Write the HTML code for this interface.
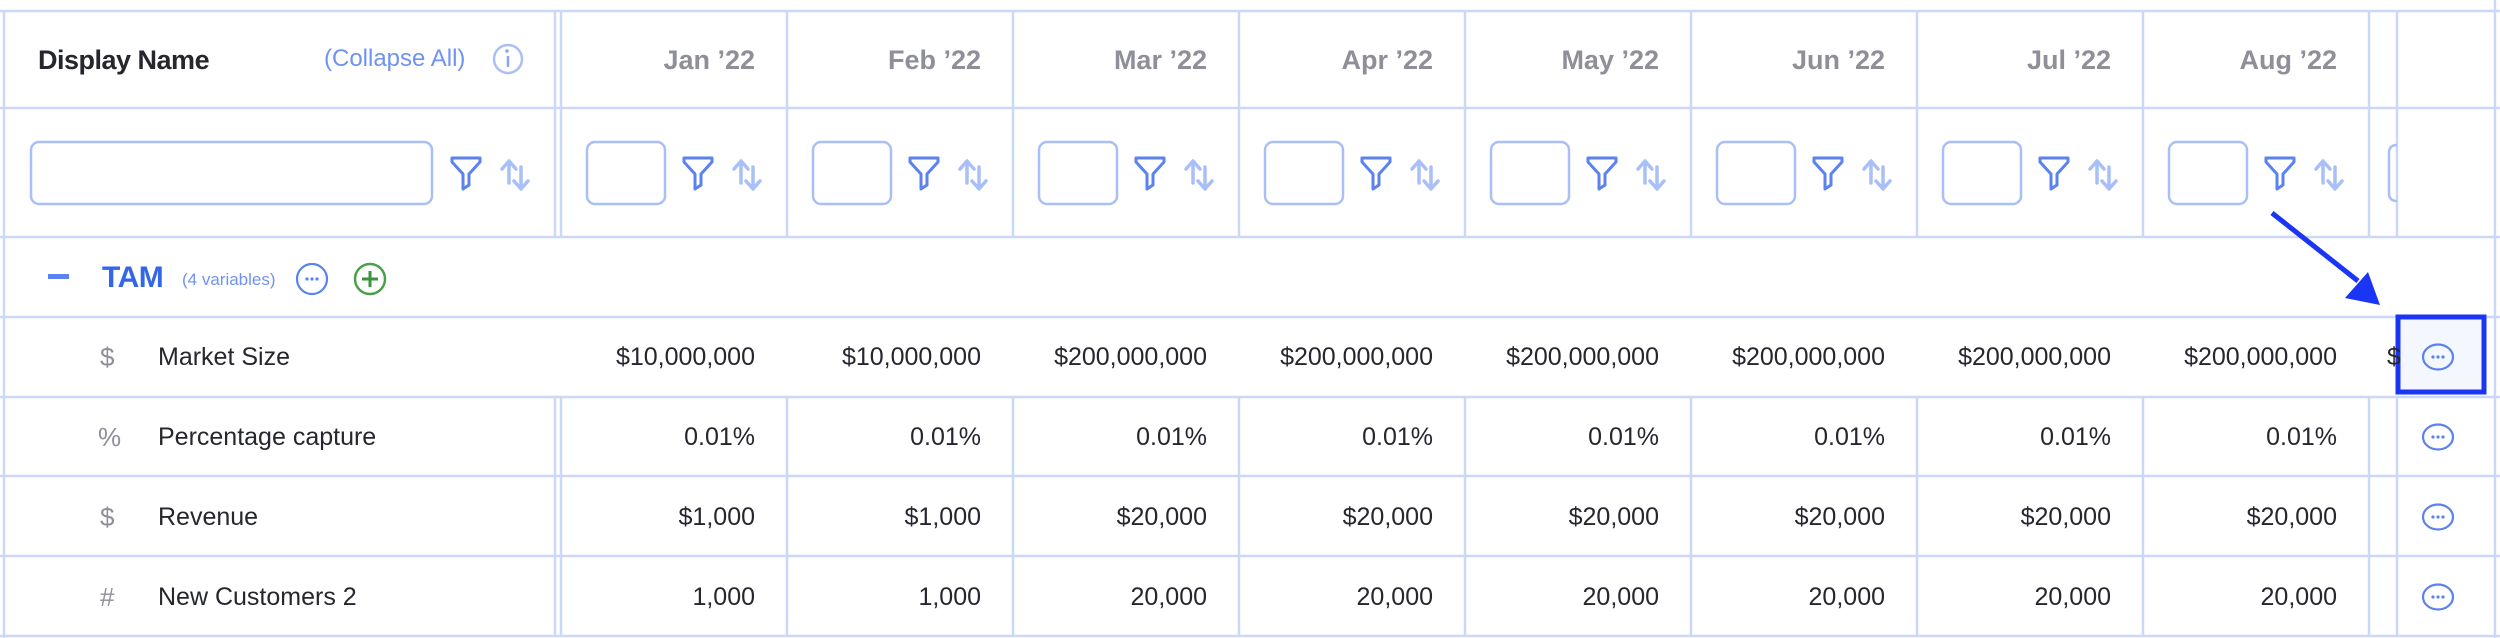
<!DOCTYPE html>
<html><head><meta charset="utf-8"><style>
body{margin:0;background:#fff;}
#c{position:relative;width:2500px;height:638px;overflow:hidden;font-family:"Liberation Sans",sans-serif;}
.t{position:absolute;white-space:nowrap;line-height:1;}
.h{font-weight:bold;font-size:27px;color:#8e8f99;text-align:right;}
.v{font-size:25px;color:#25262e;text-align:right;}
.l{font-size:25px;color:#25262e;}
.i{font-size:26px;color:#8e8f99;}
</style></head><body><div id="c">
<svg width="2500" height="638" style="position:absolute;left:0;top:0" xmlns="http://www.w3.org/2000/svg">
<g stroke="#ccd8f7" stroke-width="2.5" fill="none">
<line x1="0" y1="11" x2="2500" y2="11"/>
<line x1="0" y1="108" x2="2500" y2="108"/>
<line x1="0" y1="237" x2="2500" y2="237"/>
<line x1="0" y1="317" x2="2500" y2="317"/>
<line x1="0" y1="397" x2="2500" y2="397"/>
<line x1="0" y1="476" x2="2500" y2="476"/>
<line x1="0" y1="556" x2="2500" y2="556"/>
<line x1="0" y1="636" x2="2500" y2="636"/>
<line x1="4" y1="11" x2="4" y2="638"/>
<line x1="2495" y1="0" x2="2495" y2="638"/>
<g id="cl">
<line x1="555" y1="11" x2="555" y2="237"/><line x1="561" y1="11" x2="561" y2="237"/>
<line x1="787" y1="11" x2="787" y2="237"/><line x1="1013" y1="11" x2="1013" y2="237"/>
<line x1="1239" y1="11" x2="1239" y2="237"/><line x1="1465" y1="11" x2="1465" y2="237"/>
<line x1="1691" y1="11" x2="1691" y2="237"/><line x1="1917" y1="11" x2="1917" y2="237"/>
<line x1="2143" y1="11" x2="2143" y2="237"/><line x1="2369" y1="11" x2="2369" y2="237"/>
<line x1="2397" y1="11" x2="2397" y2="237"/>
</g>
<g transform="translate(0,160)">
<line x1="555" y1="237" x2="555" y2="476"/><line x1="561" y1="237" x2="561" y2="476"/>
<line x1="787" y1="237" x2="787" y2="476"/><line x1="1013" y1="237" x2="1013" y2="476"/>
<line x1="1239" y1="237" x2="1239" y2="476"/><line x1="1465" y1="237" x2="1465" y2="476"/>
<line x1="1691" y1="237" x2="1691" y2="476"/><line x1="1917" y1="237" x2="1917" y2="476"/>
<line x1="2143" y1="237" x2="2143" y2="476"/><line x1="2369" y1="237" x2="2369" y2="476"/>
<line x1="2397" y1="237" x2="2397" y2="476"/>
</g>
</g>
<!-- inputs -->
<g stroke="#a9bff7" stroke-width="2.5" fill="none">
<rect x="31" y="142" width="401" height="62" rx="8"/>
<rect x="587" y="142" width="78" height="62" rx="8"/>
<rect x="813" y="142" width="78" height="62" rx="8"/>
<rect x="1039" y="142" width="78" height="62" rx="8"/>
<rect x="1265" y="142" width="78" height="62" rx="8"/>
<rect x="1491" y="142" width="78" height="62" rx="8"/>
<rect x="1717" y="142" width="78" height="62" rx="8"/>
<rect x="1943" y="142" width="78" height="62" rx="8"/>
<rect x="2169" y="142" width="78" height="62" rx="8"/>
<path d="M2397 145 Q2389 145 2389 153 L2389 193 Q2389 201 2397 201"/>
</g>
<defs>
<g id="fs">
<path d="M0 0 H28 V4 L17 16 V27 L11 31 V16 L0 4 Z" fill="none" stroke="#5b82ee" stroke-width="3" stroke-linejoin="round"/>
<g stroke="#a9bff7" stroke-width="3.5" fill="none" stroke-linecap="round" stroke-linejoin="round">
<path d="M57 25 V4 M50 11 L57 3 L64 11"/>
<path d="M69 9 V30 M62 23 L69 31 L76 23"/>
</g>
</g>
<g id="dots">
<ellipse cx="0" cy="0" rx="15" ry="12.5" fill="none" stroke="#5b82ee" stroke-width="2.2"/>
<circle cx="-5" cy="0" r="1.6" fill="#5b82ee"/><circle cx="0" cy="0" r="1.6" fill="#5b82ee"/><circle cx="5" cy="0" r="1.6" fill="#5b82ee"/>
</g>
</defs>
<use href="#fs" x="452" y="158"/>
<use href="#fs" x="684" y="158"/><use href="#fs" x="910" y="158"/><use href="#fs" x="1136" y="158"/>
<use href="#fs" x="1362" y="158"/><use href="#fs" x="1588" y="158"/><use href="#fs" x="1814" y="158"/>
<use href="#fs" x="2040" y="158"/><use href="#fs" x="2266" y="158"/>
<!-- info -->
<circle cx="508" cy="59" r="14" fill="none" stroke="#a9bff7" stroke-width="2.5"/>
<line x1="508" y1="56" x2="508" y2="67" stroke="#8aa6f2" stroke-width="2.5"/><circle cx="507" cy="51" r="1.8" fill="#8aa6f2"/>
<!-- TAM row -->
<rect x="48" y="274" width="21" height="5" fill="#5b82ee"/>
<ellipse cx="312" cy="279" rx="15" ry="15" fill="none" stroke="#5b82ee" stroke-width="2.2"/>
<circle cx="307" cy="279" r="1.6" fill="#5b82ee"/><circle cx="312" cy="279" r="1.6" fill="#5b82ee"/><circle cx="317" cy="279" r="1.6" fill="#5b82ee"/>
<circle cx="370" cy="279" r="15" fill="none" stroke="#4aa04a" stroke-width="2.5"/>
<path d="M370 271 V287 M362 279 H378" stroke="#3d923d" stroke-width="3"/>
<!-- highlight -->
<rect x="2398" y="317" width="86" height="75" fill="#f5f7fe" stroke="#1a35f5" stroke-width="5"/>
<use href="#dots" x="2438" y="357"/>
<use href="#dots" x="2438" y="437"/>
<use href="#dots" x="2438" y="517"/>
<use href="#dots" x="2438" y="597"/>
<!-- arrow -->
<line x1="2272" y1="213" x2="2358" y2="281" stroke="#1a35f5" stroke-width="5"/>
<path d="M2380 305 L2345 298 L2368 272 Z" fill="#1a35f5"/>
</svg>
<div class="t" style="left:38px;top:47px;font-size:27px;font-weight:bold;color:#25262e;letter-spacing:-0.5px">Display Name</div>
<div class="t" style="left:324px;top:47px;font-size:24px;color:#6f93f2">(Collapse All)</div>
<div class="t h" style="right:1745px;top:47px">Jan ’22</div>
<div class="t h" style="right:1519px;top:47px">Feb ’22</div>
<div class="t h" style="right:1293px;top:47px">Mar ’22</div>
<div class="t h" style="right:1067px;top:47px">Apr ’22</div>
<div class="t h" style="right:841px;top:47px">May ’22</div>
<div class="t h" style="right:615px;top:47px">Jun ’22</div>
<div class="t h" style="right:389px;top:47px">Jul ’22</div>
<div class="t h" style="right:163px;top:47px">Aug ’22</div>
<div class="t" style="left:102px;top:263px;font-size:30px;font-weight:bold;color:#3366e8;letter-spacing:-0.5px">TAM</div>
<div class="t" style="left:182px;top:271px;font-size:17px;color:#6f93f2">(4 variables)</div>

<div class="t i" style="left:100px;top:344px">$</div><div class="t l" style="left:158px;top:345px">Market Size</div>
<div class="t i" style="left:98px;top:424px">%</div><div class="t l" style="left:158px;top:425px">Percentage capture</div>
<div class="t i" style="left:100px;top:504px">$</div><div class="t l" style="left:158px;top:505px">Revenue</div>
<div class="t i" style="left:100px;top:584px">#</div><div class="t l" style="left:158px;top:585px">New Customers 2</div>

<div style="position:absolute;left:0;top:345px;width:2500px">
<div class="t v" style="right:1745px">$10,000,000</div><div class="t v" style="right:1519px">$10,000,000</div>
<div class="t v" style="right:1293px">$200,000,000</div><div class="t v" style="right:1067px">$200,000,000</div>
<div class="t v" style="right:841px">$200,000,000</div><div class="t v" style="right:615px">$200,000,000</div>
<div class="t v" style="right:389px">$200,000,000</div><div class="t v" style="right:163px">$200,000,000</div>
<div class="t v" style="left:2387px">$</div>
</div>
<div style="position:absolute;left:0;top:425px;width:2500px">
<div class="t v" style="right:1745px">0.01%</div><div class="t v" style="right:1519px">0.01%</div>
<div class="t v" style="right:1293px">0.01%</div><div class="t v" style="right:1067px">0.01%</div>
<div class="t v" style="right:841px">0.01%</div><div class="t v" style="right:615px">0.01%</div>
<div class="t v" style="right:389px">0.01%</div><div class="t v" style="right:163px">0.01%</div>
</div>
<div style="position:absolute;left:0;top:505px;width:2500px">
<div class="t v" style="right:1745px">$1,000</div><div class="t v" style="right:1519px">$1,000</div>
<div class="t v" style="right:1293px">$20,000</div><div class="t v" style="right:1067px">$20,000</div>
<div class="t v" style="right:841px">$20,000</div><div class="t v" style="right:615px">$20,000</div>
<div class="t v" style="right:389px">$20,000</div><div class="t v" style="right:163px">$20,000</div>
</div>
<div style="position:absolute;left:0;top:585px;width:2500px">
<div class="t v" style="right:1745px">1,000</div><div class="t v" style="right:1519px">1,000</div>
<div class="t v" style="right:1293px">20,000</div><div class="t v" style="right:1067px">20,000</div>
<div class="t v" style="right:841px">20,000</div><div class="t v" style="right:615px">20,000</div>
<div class="t v" style="right:389px">20,000</div><div class="t v" style="right:163px">20,000</div>
</div>
</div></body></html>
